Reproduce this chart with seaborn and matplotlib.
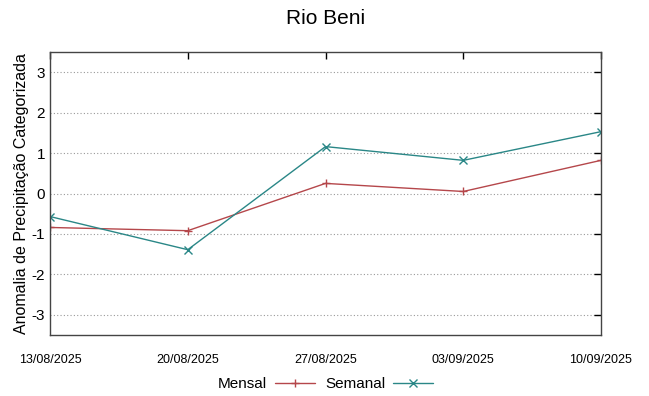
import matplotlib
matplotlib.use("Agg")
import matplotlib.pyplot as plt
import seaborn as sns
import pandas as pd

# Dados
datas = ["13/08/2025", "20/08/2025", "27/08/2025", "03/09/2025", "10/09/2025"]
mensal = [-0.84, -0.92, 0.25, 0.05, 0.82]
semanal = [-0.57, -1.39, 1.16, 0.82, 1.53]

df = pd.DataFrame({
    "pos": list(range(len(datas))) * 2,
    "valor": mensal + semanal,
    "serie": ["Mensal"] * len(datas) + ["Semanal"] * len(datas),
})

sns.set_style("white")
plt.rcParams["font.family"] = ["Liberation Sans", "DejaVu Sans"]
plt.rcParams["text.color"] = "black"
plt.rcParams["axes.labelcolor"] = "black"
plt.rcParams["xtick.color"] = "black"
plt.rcParams["ytick.color"] = "black"
plt.rcParams["axes.unicode_minus"] = False

fig = plt.figure(figsize=(6.49, 3.96), dpi=100)
ax = fig.add_axes([50 / 649, 61 / 396, 551 / 649, 283 / 396])

cores = {"Mensal": "#b5474b", "Semanal": "#2a8787"}
marcadores = {"Mensal": "+", "Semanal": "x"}
for nome in ["Mensal", "Semanal"]:
    sns.lineplot(
        data=df[df["serie"] == nome], x="pos", y="valor", ax=ax,
        color=cores[nome], marker=marcadores[nome], markersize=5.5,
        markeredgewidth=1, markeredgecolor=cores[nome], linewidth=1,
        label=nome,
    )

ax.set_xlim(0, len(datas) - 1)
ax.set_ylim(-3.5, 3.5)
ax.set_xticks(range(len(datas)))
ax.set_xticklabels(datas, fontsize=9)
ax.set_yticks([-3, -2, -1, 0, 1, 2, 3])
ax.tick_params(axis="y", labelsize=11)
ax.tick_params(direction="in", length=5, top=True, right=True, width=1)
ax.tick_params(axis="x", pad=14)
ax.yaxis.grid(True, linestyle=(0, (1, 2)), color="#999999", linewidth=0.8)
for s in ax.spines.values():
    s.set_color("#444444")
    s.set_linewidth(1)

ax.set_xlabel("")
ax.set_ylabel("Anomalia de Precipitação Categorizada", fontsize=11.5, labelpad=2)
ax.set_title("Rio Beni", fontsize=15, pad=20)

ax.legend(loc="upper center", bbox_to_anchor=(0.5, -0.10), ncol=2,
          frameon=False, fontsize=11, markerfirst=False, handlelength=2.6,
          handletextpad=0.5, columnspacing=0.7)

fig.savefig("out.png", dpi=100)
